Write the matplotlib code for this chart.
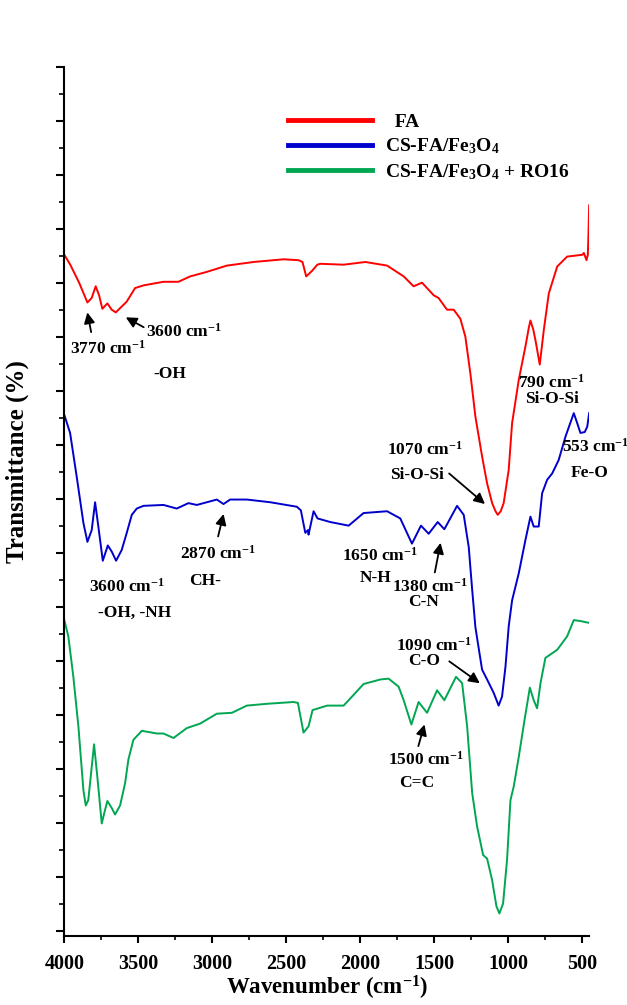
import matplotlib
matplotlib.use('Agg')
import matplotlib.pyplot as plt
import numpy as np
from matplotlib.ticker import MultipleLocator, FixedLocator, NullFormatter

plt.rcParams['font.family'] = ['Liberation Serif', 'DejaVu Serif']
plt.rcParams['font.weight'] = 'bold'
plt.rcParams['mathtext.fontset'] = 'custom'
plt.rcParams['mathtext.rm'] = 'Liberation Serif:bold'
plt.rcParams['mathtext.it'] = 'Liberation Serif:bold:italic'
plt.rcParams['mathtext.bf'] = 'Liberation Serif:bold'

# FA
wn_fa = [4000, 3960, 3900, 3844, 3815, 3788, 3765, 3743, 3709, 3680, 3652, 3578,
         3522, 3465, 3330, 3229, 3149, 3037, 2901, 2721, 2518, 2417, 2390, 2365,
         2326, 2290, 2270, 2112, 1965, 1818, 1706, 1639, 1582, 1503, 1470, 1413,
         1368, 1323, 1289, 1255, 1221, 1176, 1142, 1108, 1085, 1070, 1050, 1030,
         996, 973, 928, 883, 860, 849, 830, 815, 786, 759, 725, 668, 601, 499,
         488, 470, 461, 456, 452]
t_fa = [78.1, 77.0, 75.0, 72.8, 73.3, 74.6, 73.6, 72.1, 72.7, 72.0, 71.7, 72.9,
        74.4, 74.7, 75.1, 75.1, 75.7, 76.2, 76.9, 77.3, 77.6, 77.5, 77.3, 75.7,
        76.3, 77.0, 77.1, 77.0, 77.3, 76.9, 75.7, 74.6, 75.0, 73.6, 73.3, 72.0,
        72.0, 71.0, 69.0, 64.9, 60.1, 55.7, 52.7, 50.5, 49.6, 49.2, 49.6, 50.5,
        54.2, 59.4, 64.2, 67.9, 70.0, 70.8, 69.8, 68.6, 65.9, 69.7, 73.8, 76.8,
        77.9, 78.1, 78.3, 77.5, 78.1, 80.9, 83.6]

# CS-FA/Fe3O4
wn_cs = [4000, 3961, 3916, 3871, 3844, 3815, 3792, 3770, 3740, 3706, 3679, 3650,
         3612, 3578, 3544, 3510, 3465, 3330, 3240, 3161, 3104, 2969, 2924, 2879,
         2766, 2608, 2428, 2401, 2371, 2353, 2349, 2315, 2288, 2202, 2078, 1977,
         1818, 1729, 1650, 1589, 1537, 1476, 1431, 1345, 1300, 1266, 1243, 1221,
         1176, 1142, 1097, 1064, 1041, 1018, 996, 973, 928, 883, 849, 827, 793,
         770, 736, 702, 658, 612, 556, 533, 511, 482, 465, 452]
t_cs = [60.3, 58.3, 53.4, 48.3, 46.2, 47.5, 50.6, 47.9, 44.1, 45.8, 45.1, 44.1,
        45.3, 47.2, 49.2, 49.9, 50.2, 50.3, 49.9, 50.5, 50.3, 50.9, 50.4, 50.9,
        50.9, 50.6, 50.1, 49.7, 47.2, 47.5, 47.0, 49.6, 48.8, 48.4, 48.0, 49.4,
        49.6, 48.8, 46.0, 48.0, 47.1, 48.4, 47.6, 50.2, 49.2, 45.6, 40.9, 36.7,
        32.0, 30.9, 29.4, 28.0, 29.0, 32.3, 36.8, 39.7, 42.7, 46.4, 49.0, 47.9,
        47.9, 51.6, 53.1, 53.8, 55.3, 57.9, 60.5, 59.4, 58.3, 58.4, 59.0, 60.5]

# CS-FA/Fe3O4 + RO16
wn_ro = [4000, 3973, 3939, 3905, 3871, 3855, 3838, 3799, 3777, 3747, 3731, 3709,
         3679, 3657, 3623, 3589, 3567, 3533, 3476, 3375, 3330, 3262, 3172, 3082,
         2969, 2867, 2766, 2631, 2451, 2421, 2383, 2349, 2322, 2223, 2112, 2044,
         1977, 1864, 1808, 1740, 1706, 1654, 1605, 1548, 1480, 1431, 1352, 1311,
         1277, 1243, 1210, 1169, 1142, 1108, 1079, 1059, 1034, 1007, 984, 962,
         928, 889, 853, 827, 804, 781, 748, 668, 601, 556, 511, 455]
t_ro = [37.5, 35.7, 31.2, 25.7, 18.6, 16.9, 17.5, 23.7, 20.1, 14.9, 16.0, 17.4,
        16.6, 15.9, 16.9, 19.4, 22.0, 24.2, 25.2, 24.9, 24.9, 24.4, 25.5, 26.0,
        27.1, 27.2, 28.0, 28.2, 28.4, 28.3, 25.0, 25.7, 27.5, 28.0, 28.0, 29.2,
        30.4, 30.9, 31.0, 30.1, 28.6, 25.9, 28.4, 27.2, 29.7, 28.6, 31.2, 30.5,
        25.7, 18.3, 14.6, 11.4, 11.0, 8.6, 5.7, 4.9, 6.0, 10.9, 17.5, 19.0,
        22.3, 26.4, 30.0, 28.6, 27.7, 30.5, 33.3, 34.2, 35.7, 37.5, 37.4, 37.2]

labels = ['  FA', r'CS-FA/Fe$_3$O$_4$', r'CS-FA/Fe$_3$O$_4$ + RO16']
colors = ['#ff0000', '#0000cc', '#00a651']

fig = plt.figure(figsize=(6.27, 10.05), dpi=100)
ax = fig.add_axes([0.1026, 0.0687, 0.8373, 0.8649])

ax.plot(wn_fa, t_fa, color=colors[0], lw=1.4, label=labels[0])
ax.plot(wn_cs, t_cs, color=colors[1], lw=1.4, label=labels[1])
ax.plot(wn_ro, t_ro, color=colors[2], lw=1.4, label=labels[2])

ax.set_xlim(4000, 451)
ax.set_ylim(2.4, 99)
ax.spines['top'].set_visible(False)
ax.spines['right'].set_visible(False)
ax.spines['left'].set_linewidth(1.5)
ax.spines['bottom'].set_linewidth(1.5)

ax.xaxis.set_major_locator(MultipleLocator(500))
ax.xaxis.set_minor_locator(MultipleLocator(250))
ax.yaxis.set_major_locator(FixedLocator(np.arange(99, 2, -6)))
ax.yaxis.set_minor_locator(FixedLocator(np.arange(96, 2, -6)))
ax.yaxis.set_major_formatter(NullFormatter())
ax.tick_params(axis='x', which='major', length=5, width=1.5, labelsize=14.5, pad=8)
ax.tick_params(axis='x', which='minor', length=3, width=1.2)
ax.tick_params(axis='y', which='major', length=6, width=1.5)
ax.tick_params(axis='y', which='minor', length=3.5, width=1.2)
for lab in ax.get_xticklabels():
    lab.set_fontweight('bold')

ax.set_xlabel(r'Wavenumber (cm$^{-1}$)', fontsize=16.5, fontweight='bold')
ax.xaxis.set_label_coords(0.5, -0.044)
ax.set_ylabel('Transmittance (%)', fontsize=18, fontweight='bold')
ax.yaxis.set_label_coords(-0.067, 0.546)

leg = ax.legend(loc='upper left', bbox_to_anchor=(0.393, 0.967), frameon=False,
                fontsize=14, handlelength=4.3, handletextpad=0.7,
                labelspacing=0.3)
for line in leg.get_lines():
    line.set_linewidth(3.5)

fs = 12.5
txt = dict(fontsize=fs, fontweight='bold', ha='center', va='center')
arr = dict(arrowstyle='-|>', color='k', lw=1.3, mutation_scale=16)

# FA annotations
ax.text(3708, 67.7, r'3770 cm$^{-1}$', **txt)
ax.annotate('', xy=(3848, 72.0), xytext=(3815, 69.2), arrowprops=arr)
ax.text(3189, 69.6, r'3600 cm$^{-1}$', **txt)
ax.annotate('', xy=(3601, 71.3), xytext=(3447, 69.9), arrowprops=arr)
ax.text(3285, 64.9, '-OH', **txt)
ax.text(705, 63.9, r'790 cm$^{-1}$', **txt)
ax.text(702, 62.1, 'Si-O-Si', **txt)
ax.text(1560, 56.4, r'1070 cm$^{-1}$', **txt)
ax.text(1614, 53.6, 'Si-O-Si', **txt)
ax.annotate('', xy=(1142, 50.2), xytext=(1413, 54.0), arrowprops=arr)

# CS-FA/Fe3O4 annotations
ax.text(412, 56.8, r'553 cm$^{-1}$', **txt)
ax.text(451, 53.8, 'Fe-O', **txt)
ax.text(2960, 44.9, r'2870 cm$^{-1}$', **txt)
ax.annotate('', xy=(2919, 49.6), xytext=(2965, 46.5), arrowprops=arr)
ax.text(3046, 41.8, 'CH-', **txt)
ax.text(3576, 41.2, r'3600 cm$^{-1}$', **txt)
ax.text(3528, 38.3, '-OH, -NH', **txt)
ax.text(1867, 44.6, r'1650 cm$^{-1}$', **txt)
ax.text(1898, 42.2, 'N-H', **txt)
ax.text(1529, 41.2, r'1380 cm$^{-1}$', **txt)
ax.text(1571, 39.5, 'C-N', **txt)
ax.annotate('', xy=(1453, 46.4), xytext=(1499, 42.5), arrowprops=arr)

# RO16 annotations
ax.text(1503, 34.7, r'1090 cm$^{-1}$', **txt)
ax.text(1566, 33.0, 'C-O', **txt)
ax.annotate('', xy=(1176, 30.3), xytext=(1413, 33.1), arrowprops=arr)
ax.text(1556, 22.0, r'1500 cm$^{-1}$', **txt)
ax.text(1616, 19.4, 'C=C', **txt)
ax.annotate('', xy=(1560, 26.2), xytext=(1612, 23.2), arrowprops=arr)

fig.savefig('out.png', dpi=100)
